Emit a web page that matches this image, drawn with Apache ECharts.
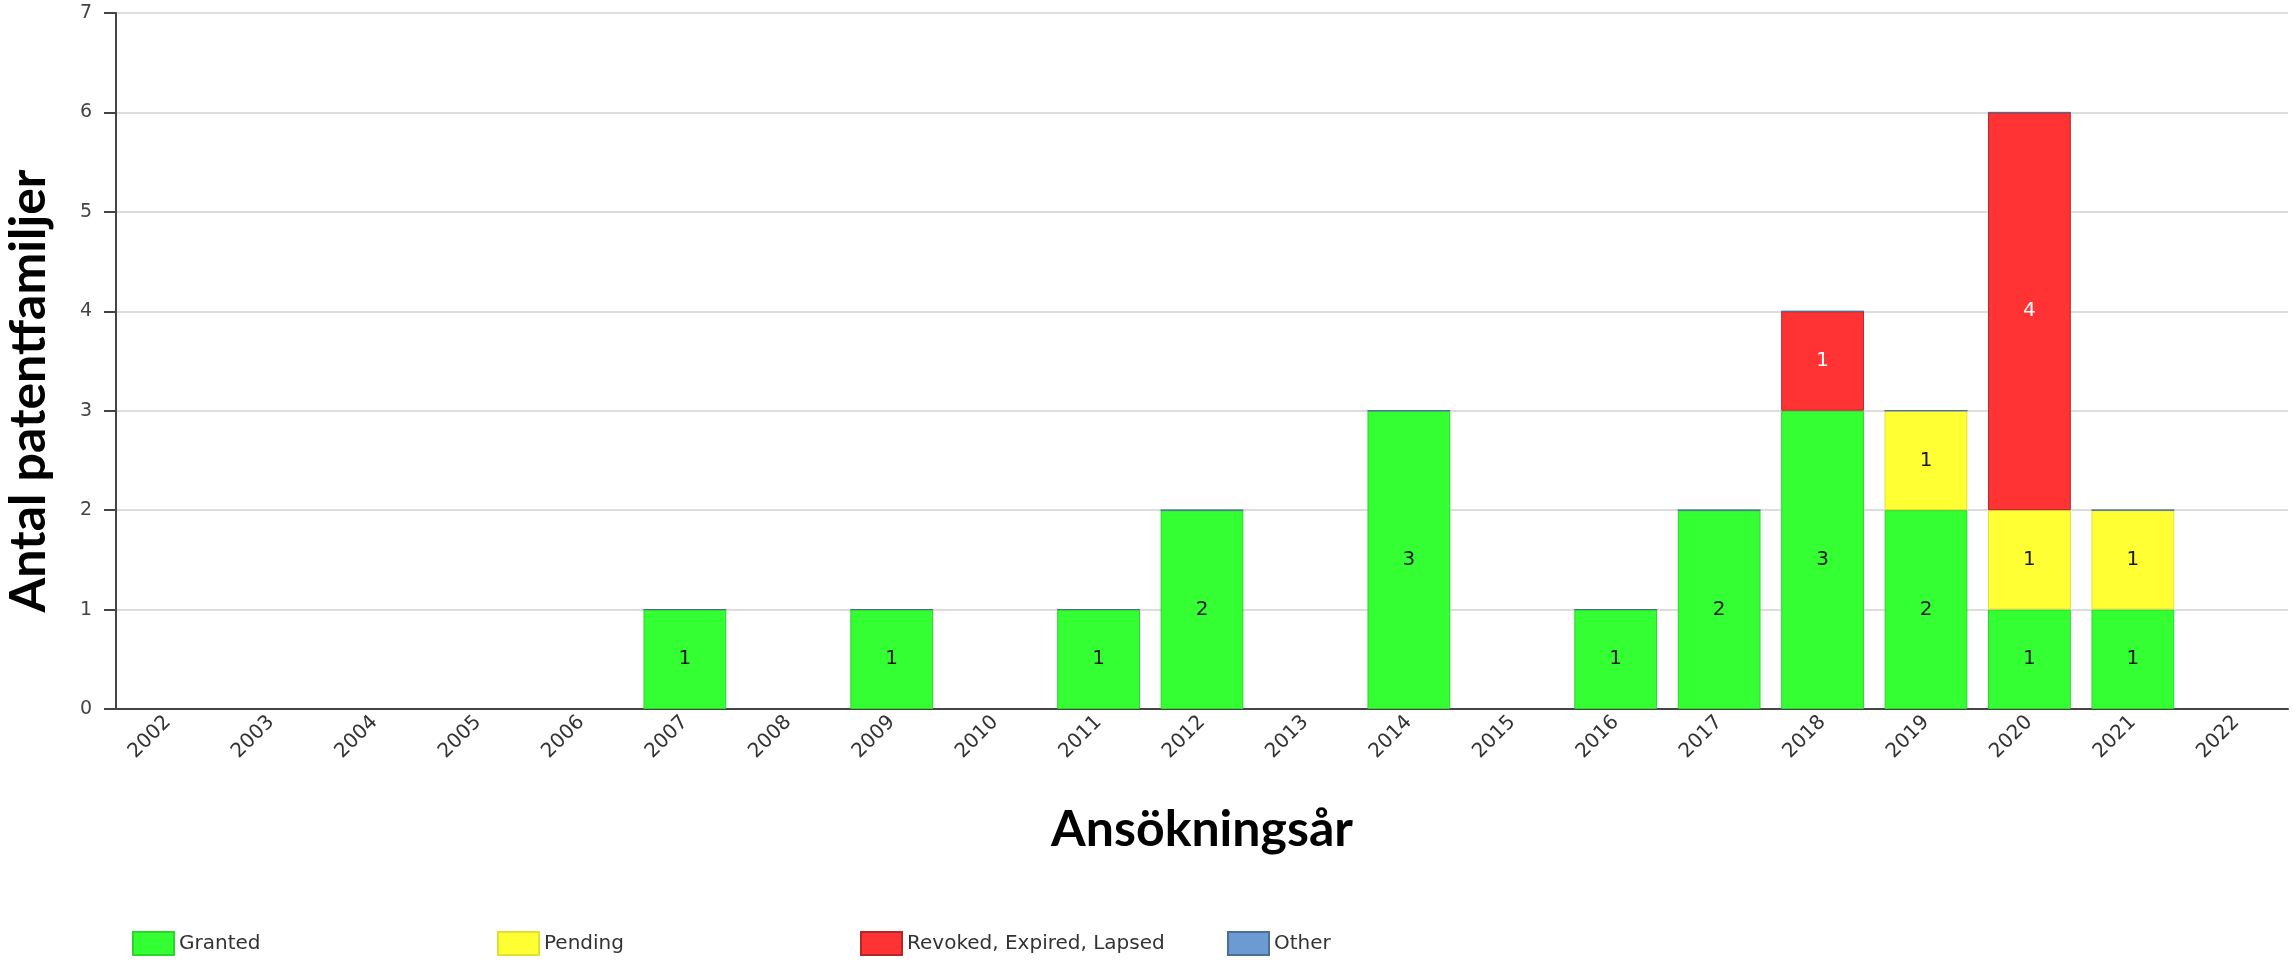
<!DOCTYPE html>
<html>
<head>
<meta charset="utf-8">
<script src="https://cdn.jsdelivr.net/npm/echarts@6/dist/echarts.min.js"></script>
<style>
html,body{margin:0;padding:0;background:#fff;}
#chart{width:2293px;height:960px;}
</style>
</head>
<body>
<div id="chart"></div>
<script>
const years = ['2002','2003','2004','2005','2006','2007','2008','2009','2010','2011','2012','2013','2014','2015','2016','2017','2018','2019','2020','2021','2022'];
const granted = [null,null,null,null,null,1,null,1,null,1,2,null,3,null,1,2,3,2,1,1,null];
const pending = [null,null,null,null,null,null,null,null,null,null,null,null,null,null,null,null,null,1,1,1,null];
const revoked = [null,null,null,null,null,null,null,null,null,null,null,null,null,null,null,null,1,null,4,null,null];
const other = [null,null,null,null,null,0,null,0,null,0,0,null,0,null,0,0,0,0,0,0,null];
const seriesNames = ['Granted','Pending','Revoked, Expired, Lapsed','Other'];

const chart = echarts.init(document.getElementById('chart'), null, {renderer:'canvas'});
const lbl = (color) => ({
  show: true, position: 'inside', color: color, fontSize: 20,
  fontFamily: 'DejaVu Sans',
  formatter: p => (p.value ? String(p.value) : '')
});
const mk = (name, data, color, border, labelColor) => ({
  name, type: 'bar', stack: 'all', data,
  barCategoryGap: '20%',
  itemStyle: {color, borderColor: border, borderWidth: 1},
  label: lbl(labelColor),
  emphasis: {disabled: true}
});
const legendLefts = [127, 492, 855, 1222];
const legends = seriesNames.map((n, i) => ({
  left: legendLefts[i], top: 926,
  itemWidth: 41, itemHeight: 23,
  icon: 'rect',
  selectedMode: false,
  textStyle: {fontFamily: 'DejaVu Sans', fontSize: 20, color: '#333'},
  data: [n]
}));
chart.setOption({
  animation: false,
  backgroundColor: '#ffffff',
  grid: {left: 116, right: 5, top: 13, bottom: 251, containLabel: false, outerBoundsMode: 'none'},
  legend: legends,
  xAxis: {
    type: 'category', data: years,
    name: 'Ansökningsår', nameLocation: 'middle', nameGap: 96,
    nameTextStyle: {fontFamily: 'Lato', fontWeight: 'bold', fontSize: 50, color: '#000'},
    axisLine: {lineStyle: {color: '#444', width: 2}},
    axisTick: {show: false},
    axisLabel: {rotate: 45, fontFamily: 'DejaVu Sans', fontSize: 20, color: '#333', margin: 10, interval: 0}
  },
  yAxis: {
    type: 'value', min: 0, max: 7, interval: 1,
    name: 'Antal patentfamiljer', nameLocation: 'middle', nameGap: 62,
    nameTextStyle: {fontFamily: 'Lato', fontWeight: 'bold', fontSize: 50, color: '#000', padding: [0,60,0,0]},
    axisLine: {show: true, lineStyle: {color: '#444', width: 2}},
    axisTick: {show: true, length: 12, lineStyle: {color: '#444', width: 2}},
    axisLabel: {fontFamily: 'DejaVu Sans', fontSize: 19, color: '#444', margin: 24},
    splitLine: {show: true, lineStyle: {color: '#dddddd', width: 2}}
  },
  series: [
    mk('Granted', granted, '#33ff33', '#2ad62a', '#1a1a1a'),
    mk('Pending', pending, '#ffff33', '#e0e030', '#1a1a1a'),
    mk('Revoked, Expired, Lapsed', revoked, '#ff3333', '#b52626', '#ffffff'),
    mk('Other', other, '#6b9bd1', '#4a6f9a', '#ffffff')
  ]
});
</script>
</body>
</html>
